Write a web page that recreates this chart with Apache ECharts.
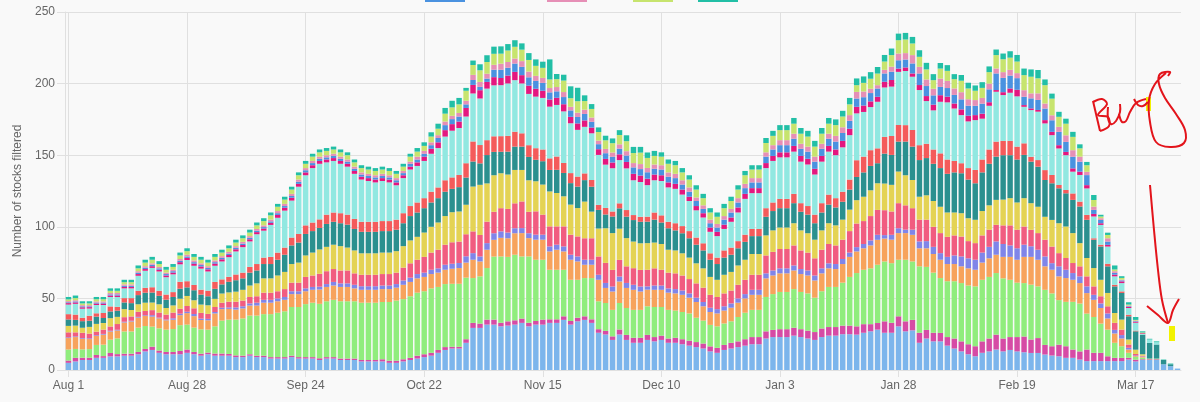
<!DOCTYPE html>
<html><head><meta charset="utf-8">
<script src="https://cdn.jsdelivr.net/npm/echarts@6/dist/echarts.min.js"></script>
<style>html,body{margin:0;padding:0;background:#f9f9f9;}#c{width:1200px;height:402px;}</style>
</head><body><div id="c"></div>
<script>
const categories = ("Aug 1,Aug 2,Aug 5,Aug 6,Aug 7,Aug 8,Aug 9,Aug 12,Aug 13,Aug 14,Aug 15,Aug 16,Aug 19,Aug 20,Aug 21,Aug 22,Aug 26," +
"Aug 28,Aug 29,Aug 30,Sep 3,Sep 4,Sep 5,Sep 6,Sep 9,Sep 10,Sep 11,Sep 12,Sep 13,Sep 16,Sep 17,Sep 18,Sep 19,Sep 20," +
"Sep 24,Sep 25,Sep 26,Sep 27,Sep 30,Oct 1,Oct 2,Oct 3,Oct 4,Oct 7,Oct 8,Oct 9,Oct 10,Oct 11,Oct 14,Oct 16,Oct 18," +
"Oct 22,Oct 23,Oct 24,Oct 25,Oct 28,Oct 29,Oct 30,Oct 31,Nov 1,Nov 4,Nov 5,Nov 6,Nov 7,Nov 8,Nov 11,Nov 12,Nov 13," +
"Nov 15,Nov 18,Nov 19,Nov 20,Nov 21,Nov 22,Nov 25,Nov 26,Nov 27,Nov 28,Nov 29,Dec 2,Dec 3,Dec 4,Dec 5,Dec 6,Dec 9," +
"Dec 10,Dec 11,Dec 12,Dec 13,Dec 16,Dec 17,Dec 18,Dec 19,Dec 20,Dec 23,Dec 24,Dec 25,Dec 26,Dec 27,Dec 30,Dec 31,Jan 2," +
"Jan 3,Jan 6,Jan 7,Jan 8,Jan 9,Jan 10,Jan 13,Jan 14,Jan 15,Jan 16,Jan 17,Jan 20,Jan 21,Jan 22,Jan 23,Jan 24,Jan 27," +
"Jan 28,Jan 29,Jan 30,Jan 31,Feb 1,Feb 3,Feb 4,Feb 5,Feb 6,Feb 7,Feb 10,Feb 11,Feb 12,Feb 13,Feb 14,Feb 17,Feb 18," +
"Feb 19,Feb 20,Feb 21,Feb 24,Feb 25,Feb 26,Feb 27,Feb 28,Mar 3,Mar 4,Mar 5,Mar 6,Mar 10,Mar 11,Mar 12,Mar 13,Mar 16," +
"Mar 17,Mar 18,Mar 19,Mar 20,Mar 23,Mar 24,Mar 25").split(',');

const s1 = [5,6,7,7,8.5,8.5,9.5,9.5,10,10, 11,13,14,12,11,11,11,12,11,10, 11,10,10,10,9,9,10,9,9,8, 8,8,9,8,8,8,7,8,8,7, 7,7,6,6,6,6,5,5,6,7, 8,9,10,12,14,15,15,19,29.4,29.4, 31.7,31.7,30.5,31,31.7,32.9,30.5,31.7,31.7,32.9, 32.9,35,31.7,34,35,32.9,26,24.8,21,24.8, 21,19,19,21,20,21,19,19,18,17, 16,15,13,12,14,15,16,17,18,18, 22,23,23,23,24,23,22,21,23,24, 24,25,25,24.7,26,27,28.2,26,26,30.5, 27,27.7,19,22,20,20,17,15,13,11, 9.6,12,13,14.3,13,14,13,12.4,11.9,11.9, 10.8,10.1,9.6,8.5,8.5,7.3,6.2,6.2,6.2,6.2, 6.2,6.2,7.3,6,7,7,7,4,2.7,1];
const s2 = [1.6,2.5,1.6,1.6,2,1.2,2.4,1.6,1.4,1.4, 1.6,1.7,2.3,1.6,1.6,1.6,2.3,2.3,1.6,1.4, 1.2,1.5,1.5,1.2,1.2,1,1,1,1,1, 1,1,1,1,1,1,1.2,1,1,1, 1,1,1,1,1,1.5,1.5,1.5,1.5,1.5, 2,2,2,2,2,1.2,1.2,2.5,3.5,3, 3.5,3.5,2.5,3,3,3,2.5,2.5,3.5,2.5, 2.5,2.5,2.5,2.5,2.5,2.5,2.5,2.5,2.5,3.5, 3.5,3.5,3.5,3.5,3,3,3,3.5,3.5,3.5, 3.5,3.5,3.5,3.5,3.5,4,4,4.5,5,5, 5,5,5.5,5.5,5.5,5.5,5.5,5.5,6,6, 6,6,6,5.8,6,5,4.6,8,7,7, 7,7.3,7,6,6,5.9,6,7,7,7, 7,8,9,10.4,9,9,10,11,9.4,10.4, 6.7,6.5,8.1,8.1,5.8,5.7,8.1,5.8,5.8,3.4, 2.3,2.3,1.2,1.2,0.5,0.5,0.5,0,0,0];
const s3 = [7.7,6.2,5.8,6,7,8,9.3,11,15.5,15.5, 17,16,14,15.5,15.6,16,18,17.4,17,17, 16,19,23,24,25,26,27,28,29,30, 31,32,34,35,37,38,38,39,40,40, 40,40,40,40,40,40,41,42,42,43, 44,44,45,44,44,44,44,43,31.3,33, 36,44,46.3,45,45.8,43.4,46.3,42.8,41.8,34.6, 34.6,32.5,28.8,26.5,26.7,28.8,19.5,19.5,18.5,18.5, 18.8,19.5,19.5,20,21,20,20,19,19,19, 17,16,15,15,15,15,17,18.5,19,19, 24,25,26,26,27,26,26,24,26,28, 28,30,34,37.2,38,39,40.7,41.8,41.6,39.5, 43,40.8,46.4,44,42,38.3,39,40,40.7,41, 41.8,43,43,43,42,40,38,37.3,38.3,36.1, 38.5,36.9,31.1,31,33.3,33.4,25.1,25,20.4,18.6, 10.5,8.1,3.5,2,1.2,0.5,0.5,0,0,0];
const s4 = [8,8.3,7.4,7,6.3,7,5.7,5.5,6.3,7, 7,7,7,7,6.5,6.5,7,8,8,6.5, 6.5,9,8,7.5,7,7,7,7,8,8, 8,8,9,9,9,9,10,10,10,10, 10,9,9,9,9,9,9,9,10,10, 10,10,10,10,10,10.5,11,10.5,12.8,10.4, 12.8,11.7,13,13,15,16.3,12.8,14,14,12.8, 14,12.8,14,12.8,9.3,9.3,15,10.5,12.8,15, 14,14,12.8,11.6,12,12,12,12,12,11, 11,10,9,9,9,9.5,10,10,10.5,10.5, 13,13,13,13,13,12.5,12.5,12,12.5,13, 12.5,13,14,15.1,15,16,17.4,16,16.4,18.6, 18.6,18.6,12.6,13,13,12.8,12,12,11.7,12, 11.6,12,13,12.8,15,16,16,18.3,19.4,18.6, 16.4,16.5,16.6,16.6,15.4,14.3,14.3,12,10.9,7.8, 6.5,5.4,2.3,0.5,0.5,0,0,0,0,0];
const s5 = [0.5,0.5,0.5,0.5,0.5,0.5,0.5,0.5,0.5,0.5, 0.5,0.5,1,0.5,0.5,1,1,1,1.5,1, 1,1,1,1,1.5,1.5,1.5,2,2,2, 2,2,2,2,2,2,2,2,2.5,2.5, 2.5,2.5,2.5,2.5,2.5,2.5,2.5,2.5,3,3, 3,3,3,3,3.5,3.5,3.5,4.4,4.6,3.5, 4.6,4.6,4.5,4,3.5,3.5,3.4,3.5,3.5,3.5, 3.5,3.5,3.5,3.5,3.5,3.5,3.5,3.5,3.5,3.5, 3.5,3.5,3.5,2.3,3,3,3,3,3,3, 3,3,3,3,3,3,3,3,3.5,3.5, 3.5,3.5,3.5,3.5,3.5,3.5,3.5,3.5,3.5,3.5, 3.5,3.5,3,3,3,3.5,3.5,2.4,3.4,3.4, 2.4,3.6,4.8,5,5,4.6,5,6,6.9,7, 7,7,8,9.3,9,8,8,8.5,7.4,7, 6.9,4.6,7,5.8,4.7,4.7,4.7,3.5,3.2,3.5, 2.5,2.4,1.2,0.5,0.3,0,0,0,0,0];
const s6 = [3.5,2.8,3.7,3.3,2.5,3,3,4,3.2,3, 3.5,3,3.5,3.5,3.5,4,3.5,4,4,4, 3.5,3.5,3.5,4,4,4,4.5,4.5,5,5, 5,5.5,6,6,8,8,9,9,9,9, 9,8,8,8,8,8,8,8,9,10, 10,11,12,13,14,15,15,15.4,15.2,15, 15,15,16.2,16.5,17.4,18.6,15,16.3,14,14, 12.8,14,14,14,15,15,12.8,14,11.6,11.6, 11.6,11.6,11.6,11.6,12,11,11,11,10.5,10, 10,10,9,8.5,9,9,9.5,10,10.5,10.5, 12.5,13,13.5,13.5,14,13,12.5,12,13,13.5, 13,13.5,15,16.5,16,17,17.4,17.4,16.3,17.5, 17,15,15.2,15,14,14,14,14,13.9,12, 11.6,12,12,11.6,13,14,13,12.7,11.5,11.6, 11.7,11.6,9.2,8.2,7,7,7,5.9,5,5, 4.9,3.8,2.3,1,0.5,0,0,0,0,0];
const s7 = [4.5,4.7,3.5,4.7,5.4,4.6,5.8,5,5.6,4.5, 5.3,5.8,5.3,5.8,4.6,5,7,7,5.6,5.8, 6,5.7,6.4,6.5,7,7.5,8,9,10,10, 11,12,13,14,15,16,17,17,17,17, 16,16,15,15,15,15,15,15,15,16, 16,17,18,19,20,21,21,20.6,31.3,35, 26.7,25.5,24.4,24,23.3,22,22,21,21,24.4, 23.3,21,21,19.8,25.6,18.6,19.5,24.2,25.7,21.8, 19.7,18.6,18.6,18.6,18,18,16,16,15.5,15, 14,13.5,12.5,12,13,13,13.5,14,14.5,14.5, 14,15,15,15,15.5,14,13.5,13,13.5,14.5, 14,14,15,16.3,17,18,18.6,18.6,18.6,22.1, 21,19.7,16,17,18,18.4,17,16,16.3,16, 16.3,17,17,17.4,18,19,19,19.8,18.6,18.4, 16,18.6,20.9,22,20.9,16.2,12.8,12.8,11.5,9.3, 6.9,7,3.5,3,1,0,0,0,0,0];
const s8 = [4.5,4,4.6,4.3,5.1,3.5,4.7,4.3,4.7,4.8, 6.4,7,7,5.9,5.8,5.9,7,6,7,7, 6.3,7,6.4,7.4,8,8,9,9,10,10, 11,12,13,14,15,15,15,16,16,16, 16,15,15,15,15,15,15,15,16,17, 17,17,17,17,17,16.3,17,19,17.5,15, 19.8,16.3,15,16,16.3,16.3,16.3,15,16.3,15, 16.2,16.3,15,15,15,17.4,13,9.6,11.6,14.2, 15,15,15,15,16,15,15,14,14,13.5, 13,12.5,12,11,12,12,12,12.5,12.5,12.5, 13,13.5,13.5,13.5,14,13,13,11.5,12.5,13, 12.5,12.5,14,16.2,17,17,14,20.9,20.9,20.9, 23.5,23.3,25.6,26,26,27,27,28,27.9,27, 25.5,27,29,30.2,31,30,30,30.2,29,28, 25.7,25.6,24.4,23.2,23.2,25.6,26.7,19.8,23.3,18.6, 18.6,18.6,16.2,12.8,13.7,10.9,9.8,3,1.3,0];
const s9 = [3.7,3.7,2.4,3.5,2.3,3.5,3.5,2.7,3,3.5, 3,3.4,3.7,3.5,3.6,3.4,4.8,4.3,3.7,3.4, 3.9,4.8,3.5,3.5,4,4,4,4.5,4.5,5, 5,5,5.5,6,6,6,6,6.5,6.5,7, 7,7,7,7,7,7,7,7,7,7, 7,7,7.5,7.5,8,8,8.5,10,14,12.8, 10.4,10.9,10.9,11,10.4,9.3,8.2,8.1,8.2,8.1, 9.3,7,7,7,4.7,4.7,3.5,4.6,3.5,3.5, 4.6,3.5,3.5,3.5,5,5,4.5,5,5,5, 5,5,4.5,4.5,5,5,5,5,5,5, 6,6,6.5,6.5,6.5,6,6,6,6.5,7, 6.5,7,7,11.7,11,11,10.4,11.7,13.2,11.6, 11.5,11.6,10.4,10,10,10.3,10,8,7,8, 9.3,9,10,10.5,10,10,9,8.1,3.4,4.6, 6.9,5.8,2.3,2.3,4.5,3.4,3.4,1,1.2,1.8, 1.1,1.1,1.1,0.5,0,0,0,0,0,0];
const s10 = [6.7,7.5,6.3,5,5.8,5.6,6.6,6.9,6.8,6.8, 10.5,11.9,13.5,13.5,12.1,12.4,12.2,14.8,13.4,14.7, 13.4,11.3,12.5,13.7,16.1,17.8,17.8,20.8,18.8,22.3, 24.3,25.8,25.8,33,35,38,38.8,36.5,36,34.5, 33.5,31.5,29.5,28.5,27.5,28,27,24,24.5,25.5, 25.5,26,26.5,27.5,30.5,32.6,32.8,32.6,33.5,32.5, 36,35.6,35.6,36.6,36,34.8,35.8,36,36,36.1, 36,36,34.8,32.6,32.5,32.6,34.9,30.2,30.2,30.2, 29.1,24.3,24.3,22,22.5,24,24,24,22,21, 19,18,15,15,15,18,20,25,25,25, 28,29,29,29,29.5,29,29,28,29,30, 30,31,31,32.7,31.2,30.1,32.5,34.5,34.5,37.1, 37.8,37.2,38.5,29.8,27.3,36,39.9,36.6,33.6,32.6, 34.8,28.5,30.5,34.8,32,33.6,35.1,25.5,32.6,33.8, 32.6,27.8,25.5,24.3,15.2,18.6,18.5,15.2,13.8,12, 5.9,5.8,4.7,5.5,0.5,2.4,1.6,0,0,0];
const s11 = [1,1,1,1,1,1,1,1,1,1, 1.2,1.2,1.2,1.2,1.2,1.2,1.5,1.5,1.5,1.5, 1.5,1.5,1.5,1.5,1.5,1.5,1.5,1.5,1.5,1.5, 2,2,2,2,2,2,2,2,2,2, 2,2,2,2,2,2,2,2,2,2, 2.5,3,3.5,4,4.5,4.6,4.5,6,6,5.8, 4.7,5.7,5,5.5,5.8,5.8,5.8,5.5,5,5, 5,5,4.5,4.5,4.5,4,4,4,4,4, 4.5,4.5,4.5,4.5,4,4,3.5,3.5,3.5,3, 3,3,3,3,3,3,3.5,3.5,3.5,3.5, 3.5,3.5,3.5,3.5,4,4,4,4,4,4, 4,4.5,4.5,4.6,4.5,4,3.5,4,4.6,2.3, 2.5,2.3,3.5,3.5,4,4.6,4,3.5,4,4, 3.5,3.5,2.5,1.2,2,3,4.6,1.2,1.2,1.2, 2.3,2.3,2.3,2.3,2.3,2.3,2.3,1.8,1.2,1.2, 1.2,1.2,0.7,0.5,0.5,0,0,0,0,0];
const s12 = [0.6,0.7,0.7,0.6,0.7,0.7,0.8,0.8,0.8,0.8, 1,1,1,1,1,1,1,1,1,1, 1,1,1,1,1,1,1,1,1,1, 1.2,1.2,1.2,1.5,1.5,1.5,1.5,1.5,1.5,1.5, 1.5,1.5,1.5,1.5,1.5,1.5,1.5,1.5,1.5,2, 2,2,2.5,3,3.5,3.5,3.5,2.5,3.4,2.3, 2.3,5.2,5.8,5.5,5.8,5.8,5.8,5.5,5.5,5, 4.5,5,4.5,4.5,4.5,4,3.5,4,4,4, 4.5,4.5,4.5,4.5,4,4,4,4,3.5,3.5, 3.5,3,3,3,3.5,3.5,3.5,4,4,4, 4.5,4.5,5,5,5,5,5,5,5,5, 5.5,5.5,5.5,5.8,5.8,5.8,5.8,5.8,5.8,5.8, 5.5,7,8.1,7,6.5,5.8,6,6,7,7, 6.5,7,9,11.6,10,9,8.1,5.8,7,7, 8.1,8.1,9.3,7,8.1,7,7,2.8,2.3,2.3, 1.2,0.7,0.5,0.5,0,0,0,0,0,0];
const s13 = [0.8,0.8,0.8,0.8,0.8,0.8,1,1,1,1, 1,1,1,1,1,1,1.2,1.2,1.2,1.2, 1.2,1.2,1.2,1.2,1.2,1.2,1.2,1.2,1.2,1.2, 1.5,1.5,1.5,1.5,1.5,1.5,1.5,1.5,1.5,1.5, 1.5,1.5,1.5,1.5,1.5,1.5,1.5,1.5,1.5,1.5, 2,2,2,2,2.5,2.3,2.5,2.5,3.6,3.5, 3.4,3.4,4.2,4,3.5,4,4,3.5,3.5,3, 3,3.5,2.5,3,3,3,2.5,3,3,3, 3,3,3.5,3,3,3,3,3,3,3, 2.5,2.5,2.5,2.5,2.5,2.5,3,3,3,3, 3,3,3.5,3.5,3.5,3.5,3.5,3.5,3.5,3.5, 4,4,4,4.6,4,3,2.3,2.5,3.5,4.7, 4.5,5.8,4.6,4.6,4.6,5.8,5,4.5,5,4.5, 4,4,4,3.5,4,4,3.5,4.6,3.5,4.6, 3.5,3.5,3.5,4.6,4.6,3.5,2.3,2.3,1.2,2.3, 1.2,0.5,0.5,0.5,0,0,0,0,0,0];
const s14 = [1.2,1.5,1.2,1.2,1.5,1.5,1.5,1.5,1.5,1.5, 2,2.5,2.5,2,2,2,2.5,2.5,2.5,2.5, 2.5,2.5,2.5,2.5,2.5,2.5,2.5,2.5,3,3, 3,3,3,3,3,3,3,3,3,3, 3,3,3,3,3,3,3,3,3,3.5, 3.5,3.5,4,4.5,5.5,5.9,6,7,6.9,8.1, 8.2,7.7,7,8,8.2,8,8.1,7,7,6, 5.5,8,6,8,6,6,6,6,6.5,6.5, 7,7,8,7,6,6,6,6,5.5,5.5, 5.5,5,5,5,5.5,5.5,6,6,6,6, 6.5,6.5,7,7,7,7,7,7,7,7, 7.5,7.5,7.5,4.7,6,7,8.1,5.8,8.1,9.3, 9.5,8.1,7,7,6,7,7,6.5,8,7.5, 6.5,7,8,9.3,9,8.5,8.1,10.5,11.6,10.5, 12.8,11.6,7,8.1,9.3,5.8,4.6,4.6,1.2,2.3, 1.2,1.2,0.7,0.5,0.5,0,0,0,0,0];
const s15 = [1.7,1.8,1.5,1.5,1.6,1.6,1.7,1.7,1.7,1.7, 2,2,2,2,2,2,2,2,2,2, 2,2,2,2,2,2,2,2,2,2, 2,2,2,2,2,2,2,2,2,2, 2,2,2,2,2,2,2,2,2,2, 2.5,2.5,3,3.5,4,4.6,4.5,2,3.1,4.2, 4.7,5,5.1,4.5,4.6,4.4,4.8,4.5,4.3,14, 3.6,4.1,8.3,9.4,4,3.4,3.2,3.2,3.3,3.4, 4.1,4.3,4,3.8,3.5,3,3,3,3,3, 3,3,3,3,3,3,3,3,3,3, 3.5,3.5,3.5,3.5,4,4,4,4,4,4, 4,4,4.5,4.7,4.5,4.6,4.6,4.6,4.6,4.6, 4.6,4.6,4.6,4.6,4.2,3.9,4,3.5,4,4, 3.7,4,4,3.9,4,4.5,4.6,4.6,5.1,5.8, 4,3.5,3.5,3.5,3.5,2.8,2.3,3.5,1.2,1.6, 2.8,1.2,1.6,2,0.8,0.5,0.6,0.3,0.5,0];

const seriesNames = ['Filter 1','Filter 2','Filter 3','Filter 4','Filter 5','Filter 6','Filter 7','Filter 8','Filter 9','Filter 10','Filter 11','Filter 12','Filter 13','Filter 14','Filter 15'];
const seriesColors = ['#7cb5ec','#d64ba5','#90ed7d','#f7a35c','#8085e9','#f15c80','#e4d354','#2b908f','#f45b5b','#91e8e1','#e4177f','#4a92e0','#e68fb6','#c7e46e','#22bfa6'];
const seriesValues = [s1,s2,s3,s4,s5,s6,s7,s8,s9,s10,s11,s12,s13,s14,s15];
const legendShown = [11,12,13,14];
const legendLeft = [425,547,633,698];

const chart = echarts.init(document.getElementById('c'), null, {renderer:'canvas'});
const grid = '#e0e0e0';
const red = '#e3141b';
const pen = {stroke:red,lineWidth:2,fill:null};
function stroke(points){ return {type:'polyline',z:101,shape:{points:points,smooth:0.35},style:pen,silent:true}; }
chart.setOption({
  animation:false,
  backgroundColor:'#f9f9f9',
  textStyle:{fontFamily:'"Liberation Sans", Arial, sans-serif'},
  grid:{left:65,right:19,top:12,bottom:32},
  legend: legendShown.map((si,j)=>({
    data:[seriesNames[si]], left:legendLeft[j], top:-10, padding:0, itemWidth:40, itemHeight:12, icon:'rect',
    textStyle:{fontSize:6,color:'#666'}, selectedMode:false
  })),
  xAxis:{type:'category',data:categories,boundaryGap:true,
    axisLine:{show:true,lineStyle:{color:grid}},
    axisTick:{show:true,alignWithLabel:true,interval:16,length:7,lineStyle:{color:grid}},
    axisLabel:{interval:16,color:'#666',fontSize:12,margin:10},
    splitLine:{show:true,interval:16,alignWithLabel:true,lineStyle:{color:grid}}},
  yAxis:{type:'value',min:0,max:250,interval:50,
    name:'Number of stocks filtered',nameLocation:'middle',nameGap:38,
    nameTextStyle:{color:'#666',fontSize:12},
    axisLine:{show:true,lineStyle:{color:grid}},
    axisTick:{show:true,length:8,lineStyle:{color:grid}},
    axisLabel:{color:'#666',fontSize:12,margin:10},
    splitLine:{show:true,lineStyle:{color:grid}}},
  series: seriesValues.map((d,i)=>({
    name:seriesNames[i],type:'bar',stack:'total',data:d,barCategoryGap:'22%',
    itemStyle:{color:seriesColors[i]},emphasis:{disabled:true}
  })),
  graphic:[
    {type:'rect',shape:{x:1146,y:97,width:5,height:14},style:{fill:'#f2f200'},z:100,silent:true},
    {type:'rect',shape:{x:1169,y:326,width:6,height:15},style:{fill:'#f2f200'},z:100,silent:true},
    stroke([[1093,101],[1100,131]]),
    stroke([[1093,102],[1102,99],[1107,104],[1098,115],[1108,117],[1109,126],[1100,131]]),
    stroke([[1108,107],[1108,118],[1111,124],[1116,121],[1120,112],[1120,104]]),
    stroke([[1119,114],[1122,122],[1126,121],[1130,112],[1136,103],[1146,99]]),
    stroke([[1134,99],[1138,105],[1143,106],[1148,102]]),
    stroke([[1166,73],[1155,84],[1149,100],[1150,122],[1156,142],[1170,147],[1184,143],[1185,130],[1176,114],[1165,98],[1159,84],[1160,74],[1170,72],[1168,76]]),
    stroke([[1150,185],[1154,230],[1158,270],[1162,300],[1168,323]]),
    stroke([[1147,306],[1158,315],[1168,323],[1173,310],[1179,299]])
  ]
});
</script></body></html>
